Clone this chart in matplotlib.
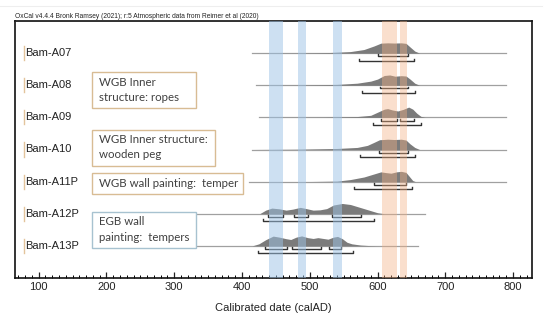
import matplotlib
matplotlib.use("Agg")
import matplotlib.pyplot as plt
from matplotlib.patches import Rectangle
from matplotlib.lines import Line2D
from matplotlib.ticker import MultipleLocator

# ---------------- data ----------------
samples = ["Bam-A07", "Bam-A08", "Bam-A09", "Bam-A10", "Bam-A11P", "Bam-A12P", "Bam-A13P"]

# extent of the thin baseline of each distribution (calAD)
line_start = [415, 420, 425, 415, 410, 250, 250]
line_end = [790, 790, 790, 790, 790, 670, 660]

# probability distributions (calAD, relative height)
dist_x = [
    [415, 480, 530, 560, 580, 595, 605, 615, 625, 635, 642, 648, 655, 662],
    [420, 480, 540, 570, 590, 600, 610, 618, 626, 635, 642, 648, 655, 662],
    [425, 520, 570, 590, 600, 610, 615, 622, 630, 638, 646, 652, 658, 664, 670],
    [415, 480, 540, 570, 585, 595, 603, 615, 625, 635, 642, 648, 655, 662],
    [410, 500, 540, 560, 580, 595, 605, 612, 620, 628, 635, 642, 647, 652, 656],
    [426, 435, 444, 455, 465, 475, 486, 495, 505, 515, 525, 535, 548, 560, 575, 590, 600, 610],
    [415, 425, 435, 446, 455, 465, 472, 480, 488, 497, 505, 512, 520, 527, 535, 541, 548, 555, 562, 575, 590, 600],
]
dist_h = [
    [0, .02, .06, .15, .35, .70, .97, 1.0, .98, 1.0, .95, .60, .20, 0],
    [0, .02, .08, .20, .40, .60, .95, 1.0, .88, .93, .90, .60, .20, 0],
    [0, .02, .08, .20, .50, .80, .85, .72, .62, .78, 1.0, .80, .40, .10, 0],
    [0, .03, .10, .20, .40, .70, .95, 1.0, .97, 1.0, .92, .55, .20, 0],
    [0, .01, .05, .20, .45, .75, .95, .88, .82, .95, 1.0, .90, .50, .10, 0],
    [0, .35, .55, .48, .35, .45, .62, .50, .35, .38, .50, .85, 1.0, .90, .60, .30, .10, 0],
    [0, .20, .60, .95, .85, .70, .62, .85, .97, .80, .72, .80, .72, .65, .85, .92, .70, .35, .20, .08, .02, 0],
]

# 68.2% (inner) and 95.4% (outer) ranges
inner_ranges = [
    [(600, 645)],
    [(604, 645)],
    [(605, 629), (633, 654)],
    [(602, 645)],
    [(595, 642)],
    [(438, 460), (477, 497), (533, 576)],
    [(434, 466), (474, 517), (528, 546)],
]
outer_ranges = [
    [(573, 654)],
    [(577, 655)],
    [(593, 664)],
    [(574, 655)],
    [(565, 651)],
    [(431, 595)],
    [(423, 564)],
]

blue_bands = [(440, 460), (482, 494), (535, 547)]
orange_bands = [(607, 629), (633, 644)]

annotations = [
    ["WGB Inner", "structure: ropes"],
    ["WGB Inner structure:", "wooden peg"],
    ["WGB wall painting:  temper"],
    ["EGB wall", "painting:  tempers"],
]
x_ticks = [100, 200, 300, 400, 500, 600, 700, 800]
title_text = "OxCal v4.4.4 Bronk Ramsey (2021); r:5 Atmospheric data from Reimer et al (2020)"
x_label = "Calibrated date (calAD)"

# ---------------- drawing ----------------
plt.rcParams['font.family'] = ['Liberation Sans', 'DejaVu Sans']
fig = plt.figure(figsize=(5.5, 3.18), dpi=100)
ax = fig.add_axes([15/550, 1-278/318, (532-15)/550, (278-21)/318])
ax.set_xlim(65, 828)
ax.set_ylim(7.0, -1.0)

H = 0.32
for i in range(len(samples)):
    ax.plot([line_start[i], line_end[i]], [i, i], color='#a0a0a0', lw=0.9, zorder=2)
    ys = [i - H*h for h in dist_h[i]]
    ax.fill_between(dist_x[i], ys, [i]*len(ys), color='#7b7b7b', lw=0, zorder=3)
    for (a, b) in inner_ranges[i]:
        y = i + 0.10
        ax.plot([a, a, b, b], [y-0.06, y, y, y-0.06], color='#333333', lw=1.0, zorder=4)
    for (a, b) in outer_ranges[i]:
        y = i + 0.23
        ax.plot([a, a, b, b], [y-0.06, y, y, y-0.06], color='#333333', lw=1.0, zorder=4)
    ax.text(80.5, i, samples[i], fontsize=8, ha='left', va='center', color='#222222', zorder=6)
    ax.plot([79, 79], [i-0.22, i+0.22], color='#e3c49c', lw=1.0, zorder=6)

for (a, b) in blue_bands:
    ax.axvspan(a, b, color='#9dc3e6', alpha=0.5, lw=0, zorder=5)
for (a, b) in orange_bands:
    ax.axvspan(a, b, color='#f4b183', alpha=0.4, lw=0, zorder=5)

# annotation boxes (positions in data coords)
box_geom = [
    (178.3, 331.9, 0.59, 1.71, '#d8bc94'),
    (178.3, 360.0, 2.39, 3.51, '#d8bc94'),
    (178.3, 401.0, 3.73, 4.38, '#d8bc94'),
    (178.3, 332.0, 4.94, 6.06, '#a7c2d0'),
]
line_pos = [
    [0.90, 1.37],
    [2.70, 3.17],
    [4.05],
    [5.25, 5.74],
]
for (x0, x1, y0, y1, ec), lines, lp in zip(box_geom, annotations, line_pos):
    ax.add_patch(Rectangle((x0, y0), x1-x0, y1-y0, facecolor='white', edgecolor=ec,
                           lw=1.0, zorder=7))
    for t, yy in zip(lines, lp):
        ax.text(x0 + 10.5, yy, t, fontsize=8.3, family=['Lato', 'DejaVu Sans'],
                color='#404040', ha='left', va='center', zorder=8)

ax.set_xticks(x_ticks)
ax.xaxis.set_minor_locator(MultipleLocator(10))
ax.set_yticks([])
ax.tick_params(axis='x', which='major', direction='in', length=4, width=0.9, labelsize=8,
               pad=3, colors='#222222')
ax.tick_params(axis='x', which='minor', direction='in', length=2, width=0.7)
for s in ax.spines.values():
    s.set_linewidth(1.2)
    s.set_color('#111111')
ax.set_xlabel(x_label, fontsize=8, labelpad=8, color='#222222')

t = fig.text(15/550, 1-17/318, title_text, fontsize=4.8, ha='left', va='center', color='#222222')
fig.canvas.draw()
bb = t.get_window_extent()
fig.add_artist(Line2D([bb.x0/550, bb.x1/550], [(bb.y0-0.5)/318]*2, lw=0.5, color='#333333'))
fig.add_artist(Line2D([0.0, 0.985], [1-6/318]*2, lw=0.8, color='#eeeeee'))

fig.savefig("out.png", dpi=100)
